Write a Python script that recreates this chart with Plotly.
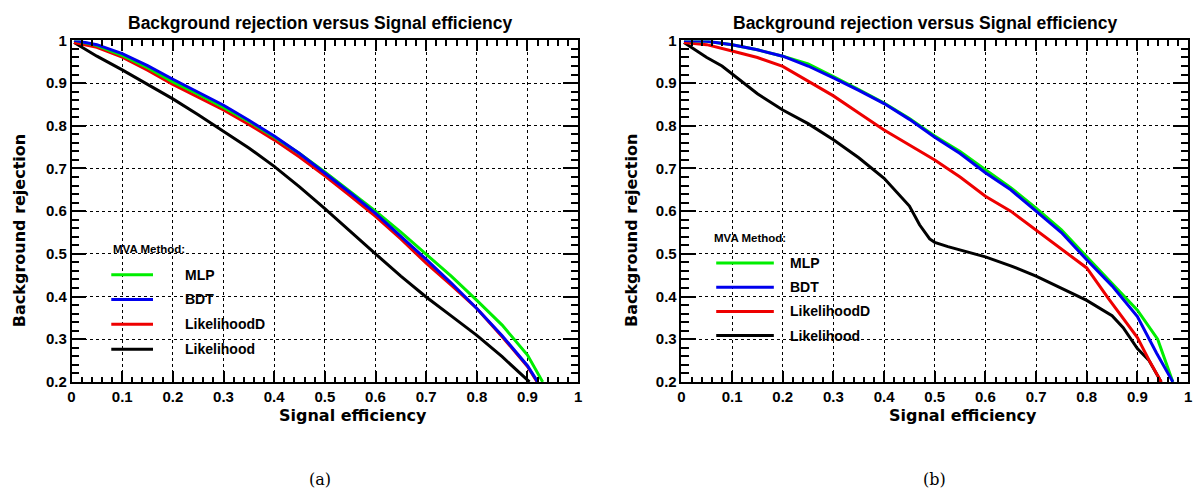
import plotly.graph_objects as go

W, H = 1199, 501

# ---------------- data: panel (a) ----------------
a_mlp_x = [0.005, 0.05, 0.1, 0.15, 0.2, 0.25, 0.3, 0.35, 0.4, 0.45, 0.5, 0.55, 0.6, 0.65, 0.7, 0.75, 0.8, 0.85, 0.9, 0.93]
a_mlp_y = [1.0, 0.988, 0.965, 0.936, 0.903, 0.874, 0.843, 0.81, 0.774, 0.735, 0.692, 0.647, 0.600, 0.551, 0.499, 0.447, 0.391, 0.333, 0.263, 0.2]
a_bdt_x = [0.005, 0.05, 0.1, 0.15, 0.2, 0.25, 0.3, 0.35, 0.4, 0.45, 0.5, 0.55, 0.6, 0.65, 0.7, 0.75, 0.8, 0.85, 0.9, 0.92]
a_bdt_y = [1.0, 0.99, 0.969, 0.941, 0.909, 0.879, 0.848, 0.813, 0.776, 0.735, 0.69, 0.643, 0.595, 0.542, 0.487, 0.431, 0.372, 0.308, 0.238, 0.2]
a_lhd_x = [0.005, 0.05, 0.1, 0.15, 0.2, 0.25, 0.3, 0.35, 0.4, 0.45, 0.5, 0.55, 0.6, 0.65, 0.7, 0.75, 0.8, 0.85, 0.9, 0.919]
a_lhd_y = [0.995, 0.984, 0.961, 0.930, 0.897, 0.867, 0.837, 0.803, 0.767, 0.727, 0.683, 0.636, 0.588, 0.535, 0.478, 0.426, 0.372, 0.306, 0.236, 0.2]
a_lh_x = [0.005, 0.05, 0.1, 0.15, 0.2, 0.25, 0.3, 0.35, 0.4, 0.45, 0.5, 0.55, 0.6, 0.65, 0.7, 0.75, 0.8, 0.85, 0.9, 0.904]
a_lh_y = [0.995, 0.963, 0.931, 0.897, 0.863, 0.826, 0.788, 0.748, 0.705, 0.657, 0.606, 0.552, 0.5, 0.448, 0.399, 0.354, 0.309, 0.259, 0.205, 0.2]

# ---------------- data: panel (b) ----------------
b_mlp_x = [0.005, 0.05, 0.1, 0.15, 0.2, 0.25, 0.3, 0.35, 0.4, 0.45, 0.5, 0.55, 0.6, 0.65, 0.7, 0.75, 0.8, 0.85, 0.9, 0.94, 0.97]
b_mlp_y = [1.0, 0.998, 0.99, 0.978, 0.963, 0.945, 0.915, 0.885, 0.853, 0.817, 0.776, 0.74, 0.697, 0.655, 0.607, 0.556, 0.493, 0.43, 0.368, 0.30, 0.2]
b_bdt_x = [0.005, 0.05, 0.1, 0.15, 0.2, 0.25, 0.3, 0.35, 0.4, 0.45, 0.5, 0.55, 0.6, 0.65, 0.7, 0.75, 0.8, 0.85, 0.9, 0.938, 0.97]
b_bdt_y = [1.0, 0.998, 0.99, 0.978, 0.963, 0.94, 0.912, 0.883, 0.852, 0.815, 0.773, 0.735, 0.69, 0.65, 0.60, 0.55, 0.486, 0.425, 0.353, 0.267, 0.2]
b_lhd_x = [0.005, 0.05, 0.1, 0.15, 0.2, 0.25, 0.3, 0.35, 0.4, 0.45, 0.5, 0.55, 0.6, 0.65, 0.7, 0.75, 0.8, 0.843, 0.9, 0.923, 0.947]
b_lhd_y = [0.995, 0.99, 0.975, 0.96, 0.939, 0.905, 0.87, 0.83, 0.79, 0.755, 0.72, 0.68, 0.635, 0.60, 0.555, 0.51, 0.467, 0.395, 0.304, 0.251, 0.2]
b_lh_x = [0.005, 0.05, 0.08, 0.1, 0.15, 0.2, 0.25, 0.3, 0.35, 0.4, 0.45, 0.47, 0.49, 0.5, 0.526, 0.6, 0.65, 0.7, 0.75, 0.8, 0.85, 0.872, 0.9, 0.923, 0.947]
b_lh_y = [0.995, 0.96, 0.94, 0.922, 0.875, 0.837, 0.805, 0.767, 0.725, 0.677, 0.612, 0.568, 0.535, 0.527, 0.517, 0.493, 0.472, 0.448, 0.42, 0.391, 0.355, 0.327, 0.278, 0.25, 0.2]

method_names = ["MLP", "BDT", "LikelihoodD", "Likelihood"]
method_colors = ["#00ee00", "#0000ee", "#ee0000", "#000000"]

title_text = "Background rejection versus Signal efficiency"
x_title = "Signal efficiency"
y_title = "Background rejection"
legend_title = "MVA Method:"
captions = ["(a)", "(b)"]

FONT = "Liberation Sans"
TFONT = "DejaVu Sans"

panels = [
    dict(xs=[a_mlp_x, a_bdt_x, a_lhd_x, a_lh_x], ys=[a_mlp_y, a_bdt_y, a_lhd_y, a_lh_y]),
    dict(xs=[b_mlp_x, b_bdt_x, b_lhd_x, b_lh_x], ys=[b_mlp_y, b_bdt_y, b_lhd_y, b_lh_y]),
]

frames = [(68, 578), (682, 1192)]
ytop, ybot = 32.5, 386


def px2x(px):
    return px / W


def px2y(py):
    return 1 - py / H


fig = go.Figure()

draw_order = [3, 2, 0, 1]  # black, red, green, blue (blue on top)
for p, panel in enumerate(panels):
    xa = "x" if p == 0 else "x2"
    ya = "y" if p == 0 else "y2"
    for i in draw_order:
        fig.add_trace(go.Scatter(
            x=panel["xs"][i], y=panel["ys"][i], mode="lines",
            name=method_names[i], line=dict(color=method_colors[i], width=3),
            xaxis=xa, yaxis=ya, showlegend=False, hoverinfo="skip",
        ))


def make_axis(domain, rng, anchor, ticklen, minorlen):
    return dict(
        domain=domain, range=rng, anchor=anchor, dtick=0.1,
        showline=True, linecolor="black", linewidth=1.5, mirror="allticks",
        ticks="inside", ticklen=ticklen, tickcolor="black", tickwidth=2,
        showgrid=True, gridcolor="black", griddash="dot", gridwidth=1,
        zeroline=False,
        tickfont=dict(family=FONT, size=15, color="black", weight="bold"),
        minor=dict(dtick=0.02, ticks="inside", ticklen=minorlen, tickcolor="black",
                   tickwidth=2, showgrid=False),
    )


layout = dict(
    width=W, height=H, margin=dict(l=0, r=0, t=0, b=0),
    paper_bgcolor="white", plot_bgcolor="white",
    showlegend=False,
)

for p in range(2):
    sx = "" if p == 0 else "2"
    x0, x1 = frames[p]
    layout["xaxis" + sx] = make_axis([px2x(x0), px2x(x1)], [0, 1], "y" + sx, 11, 5.5)
    layout["yaxis" + sx] = make_axis([px2y(ybot), px2y(ytop)], [0.2, 1], "x" + sx, 15, 7.5)

annotations = []
shapes = []
for p in range(2):
    annotations.append(dict(
        text=title_text, x=px2x([318, 927][p]), y=px2y(15), xref="paper", yref="paper",
        showarrow=False, xanchor="center", yanchor="middle",
        font=dict(family=FONT, size=17.5, color="black", weight="bold"),
    ))
    annotations.append(dict(
        text=x_title, x=px2x([351, 965][p]), y=px2y(421), xref="paper", yref="paper",
        showarrow=False, xanchor="center", yanchor="middle",
        font=dict(family=TFONT, size=16, color="black", weight="bold"),
    ))
    annotations.append(dict(
        text=y_title, x=px2x([15, 631][p]), y=px2y(229), xref="paper", yref="paper",
        showarrow=False, xanchor="center", yanchor="middle", textangle=-90,
        font=dict(family=TFONT, size=16, color="black", weight="bold"),
    ))
    annotations.append(dict(
        text=captions[p], x=px2x([318, 937][p]), y=px2y(487), xref="paper", yref="paper",
        showarrow=False, xanchor="center", yanchor="middle",
        font=dict(family="DejaVu Serif", size=16, color="black"),
    ))

# legends ("MVA Method:") for both panels
legend_geom = [
    dict(head=(108, 248), line=(108, 150), text_x=180, y0=275, step=25.7),
    dict(head=(713, 237), line=(717, 775), text_x=789, y0=263, step=25.0),
]
for g in legend_geom:
    annotations.append(dict(
        text=legend_title, x=px2x(g["head"][0]), y=px2y(g["head"][1]), xref="paper", yref="paper",
        showarrow=False, xanchor="left", yanchor="middle",
        font=dict(family=FONT, size=11.5, color="black", weight="bold"),
    ))
    for k in range(4):
        yy = px2y(g["y0"] + g["step"] * k)
        shapes.append(dict(type="line", xref="paper", yref="paper",
                           x0=px2x(g["line"][0]), x1=px2x(g["line"][1]), y0=yy, y1=yy,
                           line=dict(color=method_colors[k], width=3)))
        annotations.append(dict(
            text=method_names[k], x=px2x(g["text_x"]), y=yy, xref="paper", yref="paper",
            showarrow=False, xanchor="left", yanchor="middle",
            font=dict(family=FONT, size=14, color="black", weight="bold"),
        ))

layout["annotations"] = annotations
layout["shapes"] = shapes

fig.update_layout(**layout)
fig.write_html("out.html")
